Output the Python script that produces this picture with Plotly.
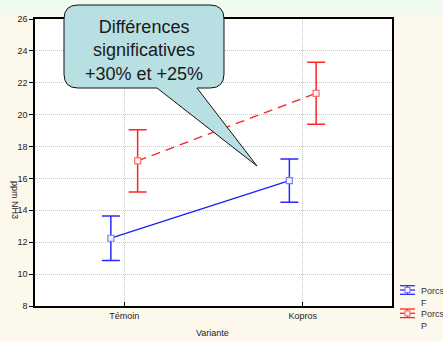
import numpy as np
import plotly.graph_objects as go

# Categories and group means with confidence half-widths (ppm NH3)
categories = ["Témoin", "Kopros"]
series_names = ["Porcs<br>F", "Porcs<br>P"]
mean_f = [12.25, 15.86]
err_f = [1.40, 1.36]
mean_p = [17.10, 21.34]
err_p = [1.95, 1.94]
y_ticks = [8, 10, 12, 14, 16, 18, 20, 22, 24, 26]
callout_lines = ["Différences", "significatives", "+30% et +25%"]

W, H = 443, 341
M_L, M_R, M_T, M_B = 35, 51, 19, 35
PW, PH = W - M_L - M_R, H - M_T - M_B
FONT = "Liberation Sans, Arial"

def px(x):
    return (x - M_L) / PW

def py(y):
    return (H - M_B - y) / PH

pos = np.arange(len(categories), dtype=float)
shift = 0.075

styles = [
    dict(line="#1e1eff", dash="solid", mfill="#f4f4ff", medge="#7d7dff", err="#2a2aff"),
    dict(line="#ff2020", dash="9px,6px", mfill="#fff2f2", medge="#ff7070", err="#ff2424"),
]
series = [(mean_f, err_f, -shift), (mean_p, err_p, shift)]

fig = go.Figure()
for (means, errs, dx), st, name in zip(series, styles, series_names):
    fig.add_trace(go.Scatter(
        x=pos + dx, y=means, name=name, mode="lines+markers",
        line=dict(color=st["line"], width=1.3, dash=st["dash"]),
        marker=dict(symbol="square", size=6, color=st["mfill"],
                    line=dict(color=st["medge"], width=1.2)),
        error_y=dict(type="data", array=errs, visible=True,
                     color=st["err"], thickness=1.5, width=9),
    ))

# speech-bubble outline (pixel coordinates mapped to paper space)
bl, br, bt, bb, r = 64, 224, 5, 88, 14
pts = [
    ("M", bl + r, bt), ("L", br - r, bt), ("Q", br, bt, br, bt + r),
    ("L", br, bb - r), ("Q", br, bb, br - r, bb),
    ("L", 197, bb), ("L", 257, 166), ("L", 157, bb),
    ("L", bl + r, bb), ("Q", bl, bb, bl, bb - r),
    ("L", bl, bt + r), ("Q", bl, bt, bl + r, bt),
]
path = ""
for p in pts:
    cmd, coords = p[0], p[1:]
    pairs = [f"{px(coords[i]):.5f},{py(coords[i + 1]):.5f}" for i in range(0, len(coords), 2)]
    path += cmd + " ".join(pairs) + " "
path += "Z"

shapes = [
    # pale top band of the frame
    dict(type="rect", xref="paper", yref="paper", x0=px(0), x1=px(W),
         y0=py(14), y1=py(0), fillcolor="#effbf1", line=dict(width=0), layer="below"),
    dict(type="path", xref="paper", yref="paper", path=path,
         fillcolor="#b8dfe2", line=dict(color="#111111", width=1), layer="above"),
]

annotations = [
    dict(x=px(144), y=py(51), xref="paper", yref="paper", showarrow=False,
         xanchor="center", yanchor="middle",
         text="<br>".join(callout_lines), align="center",
         font=dict(size=18, color="#1a1a1a", family=FONT)),
    dict(x=px(15), y=py(200), xref="paper", yref="paper", showarrow=False,
         xanchor="center", yanchor="middle",
         text="ppm NH3", textangle=90,
         font=dict(size=9, color="#222222", family=FONT)),
    dict(x=px(212), y=py(333), xref="paper", yref="paper", showarrow=False,
         xanchor="center", yanchor="middle",
         text="Variante",
         font=dict(size=9, color="#222222", family=FONT)),
]

# legend keys: error-bar glyph with centre marker, label to the right
for i, (st, name) in enumerate(zip(styles, series_names)):
    cy = 290 + i * 23.3
    for dy in (-4.3, 0, 4.3):
        shapes.append(dict(type="line", xref="paper", yref="paper",
                           x0=px(400), x1=px(415), y0=py(cy + dy), y1=py(cy + dy),
                           line=dict(color=st["err"], width=1.3)))
    shapes.append(dict(type="line", xref="paper", yref="paper",
                       x0=px(407.5), x1=px(407.5), y0=py(cy - 4.3), y1=py(cy + 4.3),
                       line=dict(color=st["err"], width=1.3)))
    shapes.append(dict(type="rect", xref="paper", yref="paper",
                       x0=px(405), x1=px(410), y0=py(cy + 2.5), y1=py(cy - 2.5),
                       fillcolor=st["mfill"], line=dict(color=st["medge"], width=1.2)))
    annotations.append(dict(x=px(419), y=py(cy - 6), xref="paper", yref="paper",
                            xanchor="left", yanchor="top", showarrow=False,
                            text=name, align="left",
                            font=dict(size=9, color="#333333", family=FONT)))

fig.update_layout(
    width=W, height=H,
    margin=dict(l=M_L, r=M_R, t=M_T, b=M_B, pad=0, autoexpand=False),
    paper_bgcolor="#fdf8ec", plot_bgcolor="#ffffff",
    font=dict(family=FONT, size=9, color="#222222"),
    showlegend=False,
    shapes=shapes, annotations=annotations,
)
fig.update_xaxes(
    range=[-0.5, 1.5], tickvals=pos, ticktext=categories,
    showline=True, linecolor="#000000", linewidth=1.5, mirror=True,
    showgrid=True, gridcolor="#c4c4c4", griddash="1px,1px", gridwidth=1,
    ticks="inside", ticklen=4, tickcolor="#000000", zeroline=False,
)
fig.update_yaxes(
    range=[8, 26], tickvals=y_ticks,
    showline=True, linecolor="#000000", linewidth=1.5, mirror=True,
    showgrid=True, gridcolor="#c4c4c4", griddash="1px,1px", gridwidth=1,
    ticks="outside", ticklen=4, tickcolor="#000000", zeroline=False,
)

fig.write_html("out.html")
